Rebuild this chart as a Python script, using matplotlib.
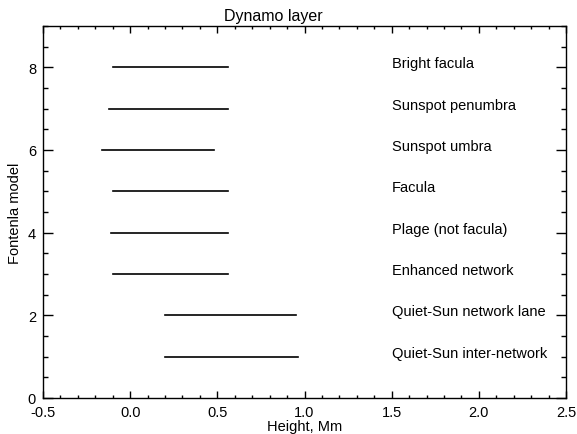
import matplotlib
matplotlib.use("Agg")
import matplotlib.pyplot as plt
from matplotlib.ticker import MultipleLocator, FormatStrFormatter

plt.rcParams['font.family'] = ['Liberation Sans', 'DejaVu Sans']
plt.rcParams['axes.unicode_minus'] = False

models = [1, 2, 3, 4, 5, 6, 7, 8]
names = ['Quiet-Sun inter-network', 'Quiet-Sun network lane', 'Enhanced network',
         'Plage (not facula)', 'Facula', 'Sunspot umbra', 'Sunspot penumbra',
         'Bright facula']
h_bottom = [0.20, 0.20, -0.10, -0.11, -0.10, -0.16, -0.12, -0.10]
h_top = [0.96, 0.95, 0.56, 0.56, 0.56, 0.48, 0.56, 0.56]

fig = plt.figure(figsize=(5.77, 4.35), dpi=100)
ax = fig.add_axes([0.0745, 0.083, 0.9065, 0.855])

for m, lo, hi, name in zip(models, h_bottom, h_top, names):
    ax.plot([lo, hi], [m, m], color='black', lw=1.2)
    ax.text(1.5, m, name, fontsize=10.5, va='baseline', ha='left')

ax.set_xlim(-0.5, 2.5)
ax.set_ylim(0, 9)
ax.xaxis.set_major_locator(MultipleLocator(0.5))
ax.xaxis.set_minor_locator(MultipleLocator(0.1))
ax.yaxis.set_major_locator(MultipleLocator(2))
ax.yaxis.set_minor_locator(MultipleLocator(0.5))
ax.xaxis.set_major_formatter(FormatStrFormatter('%.1f'))
ax.tick_params(which='both', direction='in', top=True, right=True, labelsize=10.5, width=1)
ax.tick_params(axis='x', which='major', length=5, pad=5)
ax.tick_params(axis='x', which='minor', length=2.5)
ax.tick_params(axis='y', which='major', length=7.2, pad=5)
ax.tick_params(axis='y', which='minor', length=3.6)
for s in ax.spines.values():
    s.set_linewidth(1)

ax.set_title('Dynamo layer', fontsize=11.5, x=0.44, pad=4)
ax.set_xlabel('Height, Mm', fontsize=10.5, labelpad=0)
ax.set_ylabel('Fontenla model', fontsize=10.5, labelpad=4)

fig.savefig('out.png', dpi=100)
